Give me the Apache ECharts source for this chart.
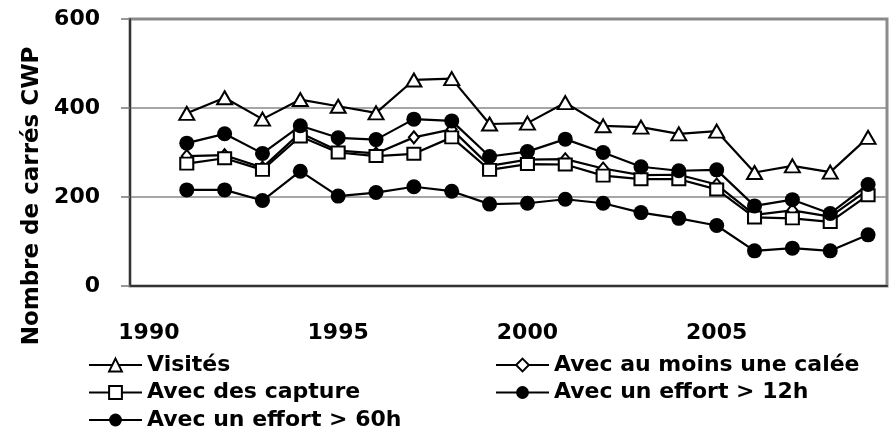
<!DOCTYPE html>
<html>
<head>
<meta charset="utf-8">
<script src="https://cdn.jsdelivr.net/npm/echarts@6/dist/echarts.min.js"></script>
<style>
  html, body { margin: 0; padding: 0; background: #fff; }
  #main { width: 893px; height: 438px; }
</style>
</head>
<body>
<div id="main"></div>
<script>
// années (1990 sans donnée)
var annees = ['1990','1991','1992','1993','1994','1995','1996','1997','1998','1999',
              '2000','2001','2002','2003','2004','2005','2006','2007','2008','2009'];
var visites  = [null, 388, 423, 375, 419, 404, 389, 463, 466, 364, 366, 412, 360, 357, 342, 348, 255, 270, 256, 334];
var calee    = [null, 292, 294, 266, 344, 304, 298, 334, 352, 270, 284, 285, 264, 249, 250, 228, 160, 170, 156, 216];
var capture  = [null, 275, 287, 261, 336, 300, 292, 297, 334, 261, 274, 273, 248, 240, 240, 217, 154, 152, 144, 204];
var effort12 = [null, 321, 342, 298, 360, 333, 329, 375, 371, 291, 302, 330, 300, 268, 259, 261, 180, 194, 163, 228];
var effort60 = [null, 216, 216, 192, 258, 202, 210, 223, 213, 184, 186, 195, 186, 165, 152, 136, 79, 85, 79, 115];
var yTicks = [0, 200, 400, 600];

var police = '"DejaVu Sans", Arial, sans-serif';

var myChart = echarts.init(document.getElementById('main'));

function serie(nom, valeurs, symbole, taille, plein) {
    return {
        name: nom,
        type: 'line',
        data: valeurs,
        symbol: symbole,
        symbolSize: taille,
        showAllSymbol: true,
        lineStyle: { color: '#000', width: 2.2 },
        itemStyle: { color: plein ? '#000' : '#fff', borderColor: '#000', borderWidth: plein ? 0 : 2 }
    };
}

var legendeTexte = { fontFamily: police, fontWeight: 'bold', fontSize: 22, color: '#000', lineHeight: 24 };

var option = {
    animation: false,
    grid: {
        left: 130, right: 6, top: 19, bottom: 152,
        show: true, borderColor: '#8c8c8c', borderWidth: 3
    },
    graphic: [{
        type: 'text',
        x: 32, y: 196,
        rotation: Math.PI / 2,
        style: {
            text: 'Nombre de carrés CWP',
            font: 'bold 23px ' + police,
            fill: '#000',
            align: 'center',
            verticalAlign: 'middle'
        }
    }],
    legend: [{
        orient: 'vertical', left: 88, top: 353, height: 85, padding: 0,
        itemWidth: 53, itemHeight: 16, itemGap: 3.5,
        data: ['Visités', 'Avec des capture', 'Avec un effort > 60h'],
        textStyle: legendeTexte
    }, {
        orient: 'vertical', left: 495, top: 353, height: 85, padding: 0,
        itemWidth: 53, itemHeight: 16, itemGap: 3.5,
        data: ['Avec au moins une calée', 'Avec un effort > 12h'],
        textStyle: legendeTexte
    }],
    xAxis: {
        type: 'category',
        data: annees,
        boundaryGap: true,
        axisLine: { lineStyle: { color: '#333', width: 2 } },
        axisTick: { interval: 0, length: 9, lineStyle: { color: '#777', width: 1.5 } },
        axisLabel: { interval: 4, margin: 36, fontFamily: police, fontWeight: 'bold', fontSize: 22, color: '#000' },
        splitLine: { show: false }
    },
    yAxis: {
        type: 'value',
        min: yTicks[0], max: yTicks[yTicks.length - 1], interval: 200,
        axisLine: { show: true, lineStyle: { color: '#333', width: 2 } },
        axisTick: { show: true, length: 9, lineStyle: { color: '#777', width: 1.5 } },
        axisLabel: { margin: 30, fontFamily: police, fontWeight: 'bold', fontSize: 22, color: '#000' },
        splitLine: { lineStyle: { color: '#888', width: 1.5 } }
    },
    series: [
        serie('Visités', visites, 'triangle', [15, 13], false),
        serie('Avec au moins une calée', calee, 'diamond', [10, 12], false),
        serie('Avec des capture', capture, 'rect', [13, 12], false),
        serie('Avec un effort > 12h', effort12, 'circle', 15, true),
        serie('Avec un effort > 60h', effort60, 'circle', 15, true)
    ]
};

myChart.setOption(option);
</script>
</body>
</html>
